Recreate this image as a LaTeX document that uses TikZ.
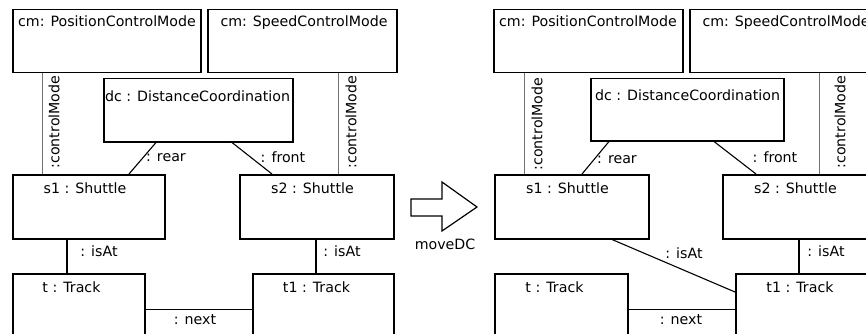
\documentclass[tikz,border=0pt]{standalone}
\usepackage{fontspec}
\setmainfont{DejaVu Sans}
\begin{document}
\begin{tikzpicture}[x=1pt,y=-1pt,
  obj/.style={draw=black, line width=1.5pt, rectangle, inner sep=0pt, anchor=north west},
  ttl/.style={anchor=base, inner sep=0pt, font=\fontsize{14.2}{16}\selectfont},
  lbl/.style={inner sep=0pt, font=\fontsize{14.2}{16}\selectfont},
  conn/.style={draw=black, line width=1.1pt},
  cmode/.style={draw=black!55, line width=0.9pt}]
\useasboundingbox (0,0) rectangle (866,334);
\clip (0,0) rectangle (866,334);
% ---------------- left half ----------------
\node[obj, minimum width=188, minimum height=63] (pcmA) at (12,9) {};
\node[obj, minimum width=189, minimum height=63] (scmA) at (207,9) {};
\node[obj, minimum width=189, minimum height=63] (dcA) at (103,78) {};
\node[obj, minimum width=152, minimum height=64] (s1A) at (12,174) {};
\node[obj, minimum width=154, minimum height=64] (s2A) at (239,174) {};
\node[obj, minimum width=132, minimum height=72] (tA) at (12,273) {};
\node[obj, minimum width=141, minimum height=72] (t1A) at (252,273) {};
\node[ttl] (pcmAt) at (107,27) {cm: PositionControlMode};
\node[ttl] (scmAt) at (304,27) {cm: SpeedControlMode};
\node[ttl] (dcAt) at (197.5,102) {dc : DistanceCoordination};
\node[ttl] (s1At) at (85,193) {s1 : Shuttle};
\node[ttl] (s2At) at (312.5,193) {s2 : Shuttle};
\node[ttl] (tAt) at (71.5,292) {t : Track};
\node[ttl] (t1At) at (316.5,292) {t1 : Track};
\draw[cmode] ([xshift=30pt]pcmA.south west) -- ([xshift=30pt]s1A.north west);
\draw[cmode] ([xshift=131pt]scmA.south west) -- ([xshift=99pt]s2A.north west);
\node[lbl, rotate=90] (cmAl) at (54,122) {:controlMode};
\node[lbl, rotate=90] (cmAr) at (351,122) {:controlMode};
\draw[conn] ([xshift=53pt]dcA.south west) -- ([xshift=117pt]s1A.north west);
\draw[conn] ([xshift=129pt]dcA.south west) -- ([xshift=33pt]s2A.north west);
\node[lbl] (rearA) at (166,158) {: rear};
\node[lbl] (frontA) at (283,157) {: front};
\draw[conn] ([xshift=55pt]s1A.south west) -- ([xshift=55pt]tA.north west);
\draw[conn] ([xshift=77pt]s2A.south west) -- ([xshift=64pt]t1A.north west);
\node[lbl] (isAtA1) at (99,251) {: isAt};
\node[lbl] (isAtA2) at (342,251) {: isAt};
\draw[conn] (tA.east) -- (t1A.west);
\node[lbl] (nextA) at (195,320) {: next};
% ---------------- arrow ----------------
\draw[line width=1.2pt, line join=miter] (411,199) -- (442,199) -- (442,182) -- (477,207) -- (442,231) -- (442,216) -- (411,216) -- cycle;
\node[lbl] (move) at (445,244) {moveDC};
% ---------------- right half ----------------
\node[obj, minimum width=189, minimum height=63] (pcmB) at (493,9) {};
\node[obj, minimum width=189, minimum height=63] (scmB) at (689,9) {};
\node[obj, minimum width=193, minimum height=62] (dcB) at (590,78) {};
\node[obj, minimum width=154, minimum height=64] (s1B) at (494,174) {};
\node[obj, minimum width=154, minimum height=64] (s2B) at (722,174) {};
\node[obj, minimum width=133, minimum height=72] (tB) at (494,273) {};
\node[obj, minimum width=141, minimum height=72] (t1B) at (735,273) {};
\node[ttl] (pcmBt) at (588,27) {cm: PositionControlMode};
\node[ttl] (scmBt) at (786,27) {cm: SpeedControlMode};
\node[ttl] (dcBt) at (687.5,101) {dc : DistanceCoordination};
\node[ttl] (s1Bt) at (567.5,193) {s1 : Shuttle};
\node[ttl] (s2Bt) at (795.5,193) {s2 : Shuttle};
\node[ttl] (tBt) at (554.5,292) {t : Track};
\node[ttl] (t1Bt) at (800,292) {t1 : Track};
\draw[cmode] ([xshift=31pt]pcmB.south west) -- ([xshift=30pt]s1B.north west);
\draw[cmode] ([xshift=130pt]scmB.south west) -- ([xshift=97pt]s2B.north west);
\node[lbl, rotate=90] (cmBl) at (537,124) {:controlMode};
\node[lbl, rotate=90] (cmBr) at (840,122) {:controlMode};
\draw[conn] ([xshift=19pt]dcB.south west) -- ([xshift=88pt]s1B.north west);
\draw[conn] ([xshift=124pt]dcB.south west) -- ([xshift=34pt]s2B.north west);
\node[lbl] (rearB) at (617,160) {: rear};
\node[lbl] (frontB) at (775,157) {: front};
\draw[conn] ([xshift=118pt]s1B.south west) -- ([yshift=-19pt]t1B.north west);
\draw[conn] ([xshift=77pt]s2B.south west) -- ([xshift=64pt]t1B.north west);
\node[lbl] (isAtB1) at (684,253) {: isAt};
\node[lbl] (isAtB2) at (826,251) {: isAt};
\draw[conn] (tB.east) -- (t1B.west);
\node[lbl] (nextB) at (681,320) {: next};
\end{tikzpicture}
\end{document}
